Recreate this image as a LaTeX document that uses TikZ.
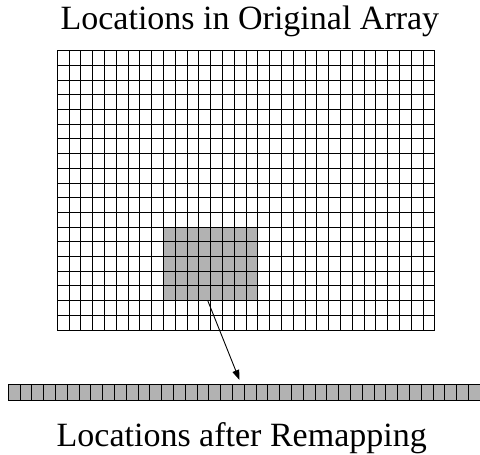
\documentclass[tikz,border=0pt]{standalone}
\usepackage{fontspec}
\setmainfont{Liberation Serif}
\usetikzlibrary{arrows.meta}
\begin{document}
\begin{tikzpicture}[x=1pt,y=-1pt,line width=0.9pt,
	declare function={w=11.8; h=14.7; gx=57.3; gy=50.7; sx=8.3; sy=384.3; sh=15.7;}]
	\useasboundingbox (0,0) rectangle (480,455);
	\path (gx,gy) coordinate (G)
	(gx+12.75*w,gy+17*h) coordinate (from)
	(239.5,380) coordinate (to);
	% picked block and remapped strip
	\fill[black!30] (gx+9*w,gy+12*h) rectangle (gx+17*w,gy+17*h);
	\fill[black!30] (sx,sy) rectangle (sx+40*w,sy+sh);
	\foreach \i in {0,...,32}
	\draw (gx+\i*w,gy)--(gx+\i*w,gy+19*h);
	\foreach \j in {0,...,19}
	\draw (gx,gy+\j*h)--(gx+32*w,gy+\j*h);
	\foreach \i in {0,...,40}
	\draw (sx+\i*w,sy)--(sx+\i*w,sy+sh);
	\draw (sx,sy)--(sx+40*w,sy) (sx,sy+sh)--(sx+40*w,sy+sh);
	\draw[-{Triangle[length=10pt,width=7pt]}] (from)--(to);
	\node[anchor=base,font=\fontsize{34}{40}\selectfont] (title) at (249.9,29) {Locations in Original Array};
	\node[anchor=base,font=\fontsize{34}{40}\selectfont] (caption) at (241.7,446.5) {Locations after Remapping};
\end{tikzpicture}
\end{document}
